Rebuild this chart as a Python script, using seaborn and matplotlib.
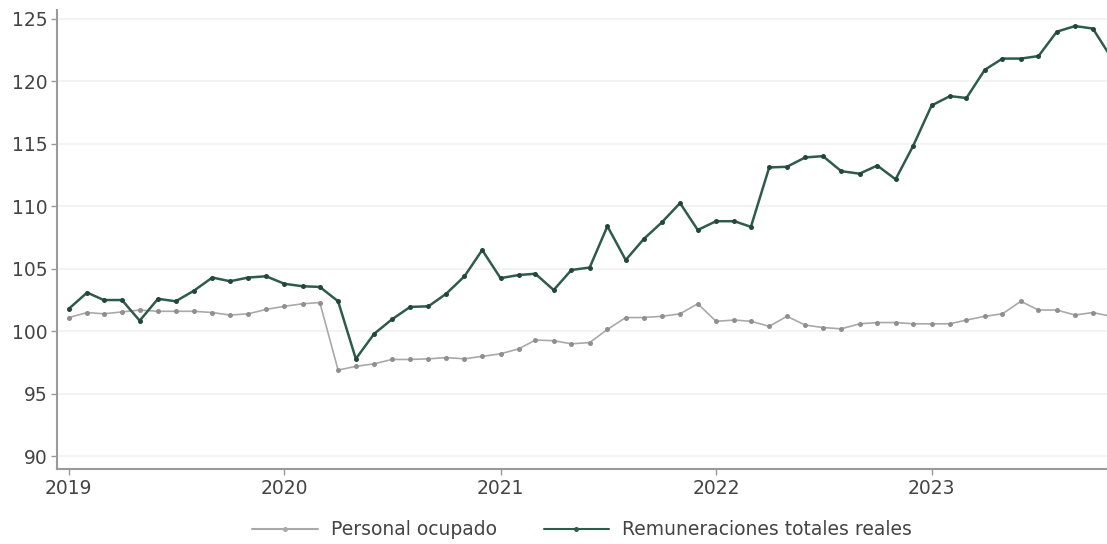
import pandas as pd
import matplotlib.pyplot as plt
import matplotlib.dates as mdates
import seaborn as sns

sns.set_style("white")
plt.rcParams['font.family'] = ['DejaVu Sans']

# Monthly index values, Jan 2019 - Nov 2023
months = pd.date_range('2019-01-01', '2023-11-01', freq='MS')

personal_ocupado = [
    101.1, 101.5, 101.4, 101.55, 101.7, 101.6, 101.6, 101.6, 101.5, 101.3, 101.4, 101.75,
    102.0, 102.2, 102.3, 96.9, 97.2, 97.4, 97.75, 97.75, 97.8, 97.9, 97.8, 98.0,
    98.2, 98.6, 99.3, 99.25, 99.0, 99.1, 100.15, 101.1, 101.1, 101.2, 101.4, 102.2,
    100.8, 100.9, 100.8, 100.4, 101.2, 100.5, 100.3, 100.2, 100.6, 100.7, 100.7, 100.6,
    100.6, 100.6, 100.9, 101.2, 101.4, 102.4, 101.7, 101.7, 101.3, 101.5, 101.2,
]

remuneraciones = [
    101.8, 103.1, 102.5, 102.5, 100.85, 102.6, 102.4, 103.25, 104.3, 104.0, 104.3, 104.4,
    103.8, 103.6, 103.55, 102.4, 97.8, 99.8, 100.95, 101.95, 102.0, 103.0, 104.4, 106.5,
    104.25, 104.5, 104.6, 103.3, 104.9, 105.1, 108.4, 105.7, 107.4, 108.7, 110.25, 108.1,
    108.8, 108.8, 108.35, 113.1, 113.15, 113.9, 114.0, 112.8, 112.6, 113.25, 112.15, 114.85,
    118.05, 118.8, 118.65, 120.9, 121.8, 121.8, 122.0, 123.95, 124.4, 124.2, 121.9,
]

series_names = ['Personal ocupado', 'Remuneraciones totales reales']
colors = ['#a9a9a9', '#2f5b4b']

df = pd.DataFrame({
    'fecha': list(months) * 2,
    'valor': personal_ocupado + remuneraciones,
    'serie': [series_names[0]] * len(months) + [series_names[1]] * len(months),
})

fig = plt.figure(figsize=(11.07, 5.44), dpi=100)
ax = fig.add_axes([0.0515, 0.138, 0.9485, 0.844])

sns.lineplot(data=df, x='fecha', y='valor', hue='serie', palette=colors,
             marker='o', markersize=3.6, markeredgewidth=0, ax=ax)
for line, lw, mc in zip(ax.lines, [1.2, 1.8], ['#8f8f8f', '#23483b']):
    line.set_linewidth(lw)
    line.set_markerfacecolor(mc)

ax.set_xlim(pd.Timestamp('2018-12-12'), pd.Timestamp('2023-10-25'))
ax.set_ylim(89, 125.7)
ax.set_yticks([90, 95, 100, 105, 110, 115, 120, 125])
ax.xaxis.set_major_locator(mdates.YearLocator())
ax.xaxis.set_major_formatter(mdates.DateFormatter('%Y'))

ax.yaxis.grid(True, color='#f1f1f1', linewidth=1.2)
ax.set_axisbelow(True)
for side in ['top', 'right']:
    ax.spines[side].set_visible(False)
for side in ['left', 'bottom']:
    ax.spines[side].set_color('#9a9a9a')
    ax.spines[side].set_linewidth(1.5)
ax.tick_params(axis='both', which='major', length=4, width=1, color='#9a9a9a',
               labelsize=13.5, labelcolor='#444444', left=True, bottom=True, pad=3)
ax.set_xlabel('')
ax.set_ylabel('')

handles, labels = ax.get_legend_handles_labels()
leg = ax.legend(handles, labels, loc='upper center', bbox_to_anchor=(0.5, -0.075),
                ncol=2, frameon=False, fontsize=13.5, handlelength=3.5,
                columnspacing=2.5, handletextpad=0.7)
for t in leg.get_texts():
    t.set_color('#444444')

plt.savefig('out.png', dpi=100)
plt.close()
